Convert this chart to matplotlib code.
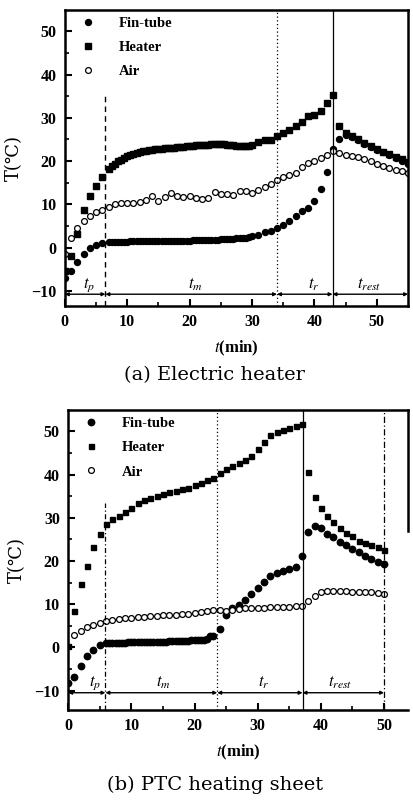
import numpy as np
import matplotlib
matplotlib.use("Agg")
from matplotlib import pyplot as plt

plt.rcParams['font.family'] = ['Liberation Serif', 'DejaVu Serif']
plt.rcParams['mathtext.fontset'] = 'stix'

# ---- (a) electric heater ----
t_air_a = np.arange(0, 56, 1.0)
air_a = [-1.5, 2.1, 4.4, 6.1, 7.3, 8.2, 8.7, 9.4, 10.0, 10.3,
         10.3, 10.2, 10.6, 11.0, 11.9, 10.7, 11.6, 12.5, 12.0, 11.7,
         11.8, 11.4, 11.2, 11.4, 12.8, 12.4, 12.3, 12.2, 13.0, 13.1,
         12.7, 13.4, 14.0, 14.6, 15.7, 16.3, 16.7, 17.2, 18.6, 19.5,
         20.0, 20.8, 21.4, 22.3, 21.8, 21.5, 21.1, 21.0, 20.4, 19.9,
         19.3, 18.9, 18.4, 18.0, 17.6, 17.2]

t_fh_a = np.concatenate([np.arange(0, 7, 1.0), np.arange(7, 30, 0.5),
                         np.arange(30, 56, 1.0)])
heater_a = [-5.5, -1.9, 3.1, 8.7, 11.8, 14.2, 16.4,
            18.2, 18.8, 19.4, 19.9, 20.3, 20.7, 21.1, 21.4, 21.7, 21.9,
            22.1, 22.3, 22.4, 22.5, 22.6, 22.7, 22.7, 22.8, 22.9, 23.0,
            23.0, 23.1, 23.2, 23.3, 23.3, 23.4, 23.5, 23.5, 23.6, 23.7,
            23.7, 23.8, 23.8, 23.9, 23.9, 24.0, 24.0, 23.9, 23.8, 23.7,
            23.6, 23.5, 23.5, 23.4, 23.4, 23.5,
            23.6, 24.3, 24.8, 24.9, 25.9, 26.5, 27.2, 28.0, 29.0, 30.3,
            30.7, 31.5, 33.5, 35.3, 28.0, 26.5, 25.8, 25.0, 24.2, 23.5,
            22.8, 22.2, 21.6, 21.0, 20.4, 19.7]
fin_a = [-7.0, -5.4, -3.3, -1.4, -0.2, 0.6, 1.1,
         1.2, 1.3, 1.3, 1.3, 1.3, 1.3, 1.3, 1.4, 1.4, 1.4,
         1.4, 1.4, 1.4, 1.4, 1.5, 1.5, 1.5, 1.5, 1.5, 1.5,
         1.5, 1.6, 1.6, 1.6, 1.6, 1.6, 1.6, 1.7, 1.7, 1.7,
         1.7, 1.7, 1.8, 1.8, 1.8, 1.8, 1.9, 1.9, 1.9, 2.0,
         2.0, 2.1, 2.1, 2.2, 2.3, 2.4,
         2.6, 3.0, 3.5, 3.9, 4.4, 5.2, 6.1, 7.4, 8.4, 9.1,
         10.8, 13.5, 17.5, 22.8, 25.2, 26.1, 25.6, 24.8, 24.0, 23.3,
         22.6, 22.0, 21.3, 20.7, 20.1, 19.3]

# ---- (b) PTC heating sheet ----
t_heater_b = np.arange(0, 51, 1.0)
heater_b = [0.3, 8.4, 14.6, 18.9, 23.2, 26.3, 28.6, 29.8, 30.5, 31.3,
            32.3, 33.4, 34.0, 34.6, 35.1, 35.5, 35.9, 36.3, 36.6, 37.0,
            37.6, 38.1, 38.7, 39.3, 40.3, 41.2, 42.0, 42.6, 43.4, 44.4,
            46.0, 47.5, 49.1, 49.8, 50.3, 50.8, 51.2, 51.6, 40.5, 34.8,
            32.3, 30.3, 29.0, 27.6, 26.4, 25.7, 24.7, 24.2, 23.6, 23.2,
            22.6]
t_fin_b = np.concatenate([np.arange(0, 7, 1.0), np.arange(6.5, 23, 0.5),
                          np.arange(23, 51, 1.0)])
fin_b = [-8.2, -6.8, -4.3, -1.9, -0.5, 0.5, 0.9,
         1.0, 1.1, 1.1, 1.1, 1.1, 1.1, 1.2, 1.2, 1.2, 1.2,
         1.2, 1.2, 1.2, 1.3, 1.3, 1.3, 1.3, 1.3, 1.3, 1.4,
         1.4, 1.4, 1.4, 1.5, 1.5, 1.5, 1.6, 1.6, 1.6, 1.7,
         1.8, 2.0, 2.6,
         2.6, 4.3, 7.5, 9.0, 9.8, 10.9, 12.3, 13.8, 15.1, 16.6,
         17.2, 17.7, 18.1, 18.5, 21.2, 26.7, 28.1, 27.6, 26.3, 25.5,
         24.5, 23.6, 22.8, 22.0, 21.2, 20.5, 19.8, 19.3]
t_air_b = np.arange(1, 51, 1.0)
air_b = [2.8, 3.9, 4.6, 5.2, 5.6, 6.0, 6.3, 6.6, 6.7, 6.8,
         7.0, 7.1, 7.2, 7.3, 7.4, 7.5, 7.6, 7.7, 7.8, 7.9,
         8.1, 8.4, 8.6, 8.6, 8.4, 8.7, 8.9, 9.0, 9.1, 9.2,
         9.2, 9.3, 9.3, 9.3, 9.4, 9.5, 9.5, 10.8, 12.0, 12.7,
         13.0, 13.0, 13.0, 13.0, 12.9, 12.9, 12.8, 12.7, 12.6, 12.3]

phase_names = ['$t_p$', '$t_m$', '$t_r$', '$t_{rest}$']
bounds_a = [0, 6.5, 34.0, 42.9, 55]
label_x_a = [3.9, 20.9, 39.9, 48.7]
bounds_b = [0, 5.9, 23.6, 37.1, 50]
label_x_b = [4.3, 15.1, 30.9, 43.0]


def style_axes(ax, xlim, ylim):
    ax.set_xlim(*xlim)
    ax.set_ylim(*ylim)
    ax.set_xticks([0, 10, 20, 30, 40, 50])
    ax.set_yticks([-10, 0, 10, 20, 30, 40, 50])
    ax.set_xticks(np.arange(5, xlim[1], 10), minor=True)
    ax.set_yticks([-5, 5, 15, 25, 35, 45], minor=True)
    ax.tick_params(which='major', direction='in', length=5, width=1.5,
                   labelsize=11.5, pad=6)
    ax.tick_params(which='minor', direction='in', length=3, width=1.2)
    for lab in ax.get_xticklabels() + ax.get_yticklabels():
        lab.set_fontweight('bold')
    for s in ax.spines.values():
        s.set_linewidth(1.8)
    ax.set_ylabel('T(℃)', fontsize=13, family='DejaVu Serif', labelpad=6)
    ax.set_xlabel('$\\mathit{t}$(min)', fontsize=12, fontweight='bold',
                  labelpad=6)


def phases(ax, bounds, label_x, yline, ylab):
    for i in range(4):
        ax.annotate('', xy=(bounds[i + 1], yline), xytext=(bounds[i], yline),
                    arrowprops=dict(arrowstyle='<|-|>', lw=1.0, color='k',
                                    mutation_scale=5, shrinkA=0, shrinkB=0))
        ax.text(label_x[i], ylab, phase_names[i], fontsize=12,
                ha='center', va='center')


def draw(ax, t_fin, fin, t_h, heater, t_air, air, ms_f, ms_h):
    ax.plot(t_fin, fin, 'o', color='k', ms=ms_f, mec='k', label='Fin-tube')
    ax.plot(t_h, heater, 's', color='k', ms=ms_h, mec='k', label='Heater')
    ax.plot(t_air, air, 'o', mfc='white', mec='k', ms=4.2, mew=0.9,
            label='Air')
    leg = ax.legend(loc='upper left', bbox_to_anchor=(0.03, 0.995),
                    frameon=False, handlelength=1.0, handletextpad=1.6,
                    labelspacing=0.75, borderaxespad=0,
                    prop={'weight': 'bold', 'size': 10.5,
                          'family': 'Liberation Serif'})
    return leg


fig = plt.figure(figsize=(4.13, 8.05), dpi=100)

# (a)
ax1 = fig.add_axes([0.157, 0.620, 0.831, 0.368])
draw(ax1, t_fh_a, fin_a, t_fh_a, heater_a, t_air_a, air_a, 4.3, 4.3)
style_axes(ax1, (0, 55), (-13.5, 55))
ax1.axvline(bounds_a[1], ymin=0, ymax=(35.3 + 13.5) / 68.5, color='k',
            ls=(0, (4, 3)), lw=1.0)
ax1.axvline(bounds_a[2], color='k', ls=(0, (1, 2)), lw=0.9)
ax1.axvline(bounds_a[3], color='k', ls='-', lw=0.9)
phases(ax1, bounds_a, label_x_a, -10.8, -8.6)
fig.text(0.52, 0.534, '(a) Electric heater', ha='center', va='center',
         fontsize=14, family='DejaVu Serif')

# (b)
ax2 = fig.add_axes([0.165, 0.118, 0.823, 0.373])
draw(ax2, t_fin_b, fin_b, t_heater_b, heater_b, t_air_b, air_b, 4.6, 3.6)
style_axes(ax2, (0, 53.8), (-14.5, 55))
ax2.spines['right'].set_bounds(27, 55)
ax2.axvline(bounds_b[1], ymin=0, ymax=(33.3 + 14.5) / 69.5, color='k',
            ls=(0, (4, 2, 1, 2)), lw=0.9)
ax2.axvline(bounds_b[2], color='k', ls=(0, (1, 2)), lw=0.9)
ax2.axvline(bounds_b[3], color='k', ls='-', lw=0.9)
ax2.axvline(bounds_b[4], color='k', ls=(0, (5, 2, 1, 2)), lw=0.9)
phases(ax2, bounds_b, label_x_b, -10.5, -8.2)
fig.text(0.52, 0.025, '(b) PTC heating sheet', ha='center', va='center',
         fontsize=14, family='DejaVu Serif')

fig.savefig('out.png', dpi=100)
